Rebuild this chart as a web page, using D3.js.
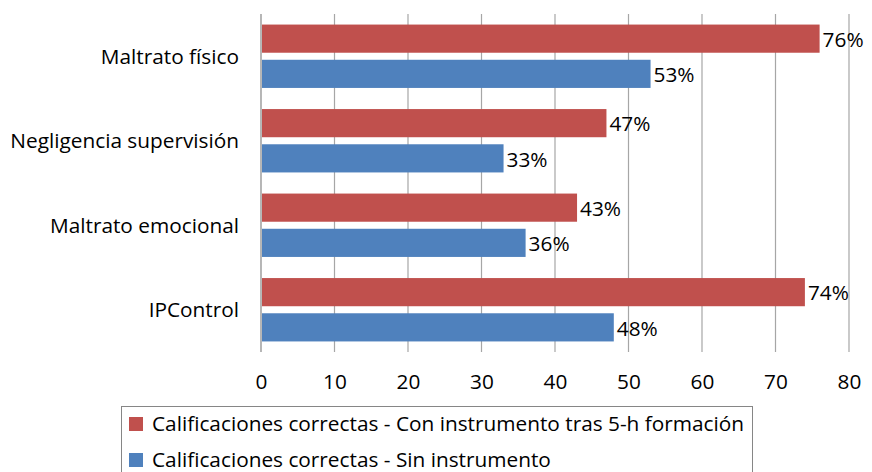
<!DOCTYPE html>
<html>
<head>
<meta charset="utf-8">
<script src="https://cdn.jsdelivr.net/npm/d3@7"></script>
<style>
  body { margin: 0; background: #fff; }
  text { font-family: "Open Sans", sans-serif; fill: #000; }
</style>
</head>
<body>
<div id="vis"></div>
<script>
const categories = ['Maltrato físico', 'Negligencia supervisión', 'Maltrato emocional', 'IPControl'];
const seriesNames = ['Calificaciones correctas - Con instrumento tras 5-h formación', 'Calificaciones correctas - Sin instrumento'];
const conInstrumento = [76, 47, 43, 74];
const sinInstrumento = [53, 33, 36, 48];
const ticks = [0, 10, 20, 30, 40, 50, 60, 70, 80];
const colors = ['#c0504d', '#4f81bd'];

const width = 872, height = 472;
const plot = { left: 261, right: 849, top: 14, bottom: 352 };
const fontSize = 20.8;

const svg = d3.select('#vis')
              .append('svg')
                .attr('width', width)
                .attr('height', height);

const x = d3.scaleLinear().domain([0, 80]).range([plot.left, plot.right]);
const y = d3.scaleBand().domain(categories).range([plot.top, plot.bottom])
            .paddingInner(0.25).paddingOuter(0.125);
const sub = d3.scaleBand().domain([0, 1]).range([0, y.bandwidth()]).paddingInner(0.2);

// gridlines
svg.append('g')
  .selectAll('line')
  .data(ticks.slice(1))
  .join('line')
    .attr('x1', d => x(d)).attr('x2', d => x(d))
    .attr('y1', plot.top).attr('y2', plot.bottom)
    .attr('stroke', '#a6a6a6').attr('stroke-width', 1.2);

svg.append('line')
  .attr('x1', x(0)).attr('x2', x(0))
  .attr('y1', plot.top).attr('y2', plot.bottom)
  .attr('stroke', '#868686').attr('stroke-width', 1.2);

const series = [conInstrumento, sinInstrumento];
series.forEach((vals, s) => {
  const g = svg.append('g');
  g.selectAll('rect')
    .data(vals)
    .join('rect')
      .attr('x', x(0) + 1)
      .attr('y', (d, i) => y(categories[i]) + sub(s))
      .attr('width', d => x(d) - x(0) - 1)
      .attr('height', sub.bandwidth())
      .attr('fill', colors[s]);
  g.selectAll('text')
    .data(vals)
    .join('text')
      .attr('x', d => x(d) + 3)
      .attr('y', (d, i) => y(categories[i]) + sub(s) + sub.bandwidth() / 2 + 1)
      .attr('dy', '0.35em')
      .attr('font-size', fontSize)
      .text(d => d + '%');
});

// category labels
svg.append('g')
  .selectAll('text')
  .data(categories)
  .join('text')
    .attr('x', plot.left - 22)
    .attr('y', d => y(d) + y.bandwidth() / 2)
    .attr('dy', '0.35em')
    .attr('text-anchor', 'end')
    .attr('font-size', fontSize)
    .text(d => d);

// x tick labels
const xAxis = d3.axisBottom(x).tickValues(ticks).tickSize(0).tickPadding(0);
const ax = svg.append('g')
  .attr('transform', 'translate(0,' + 374 + ')')
  .call(xAxis);
ax.select('.domain').remove();
ax.selectAll('text').attr('font-size', fontSize).attr('fill', '#000')
  .attr('font-family', '"Open Sans", sans-serif');

// legend
const legend = svg.append('g');
legend.append('rect')
  .attr('x', 121.5).attr('y', 406.5)
  .attr('width', 631).attr('height', 80)
  .attr('fill', 'none').attr('stroke', '#868686');
seriesNames.forEach((name, i) => {
  const ly = 424 + i * 36;
  legend.append('rect')
    .attr('x', 129).attr('y', ly - 7)
    .attr('width', 14).attr('height', 14)
    .attr('fill', colors[i]);
  legend.append('text')
    .attr('x', 152).attr('y', ly)
    .attr('dy', '0.35em')
    .attr('font-size', fontSize)
    .text(name);
});
</script>
</body>
</html>
